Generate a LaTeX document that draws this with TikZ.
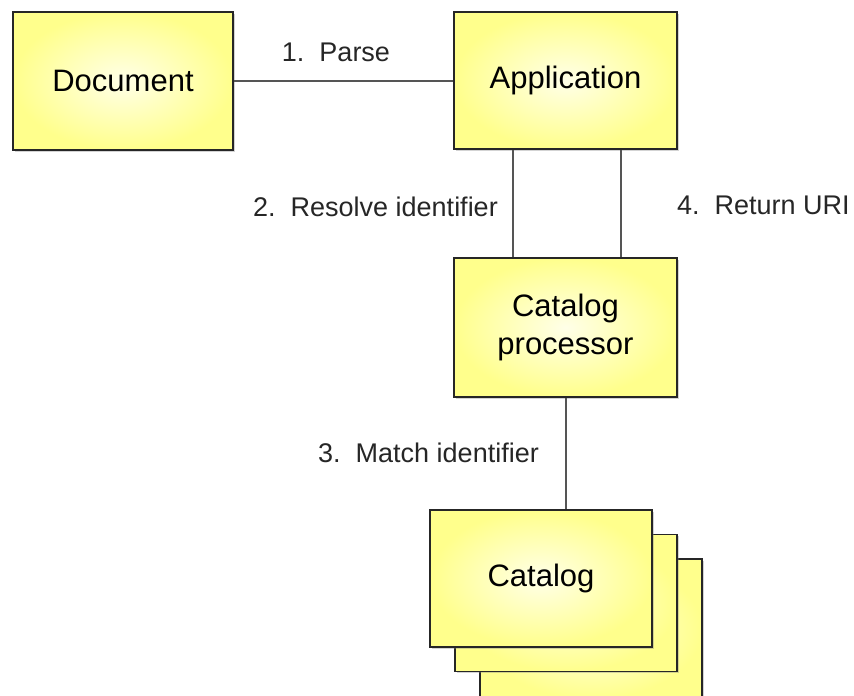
\documentclass[tikz,border=0pt]{standalone}
\usepackage{fontspec}
\setmainfont{Liberation Sans}
\usetikzlibrary{shadows,positioning,calc}

\definecolor{boxedge}{RGB}{255,255,140}
\definecolor{boxmid}{RGB}{255,255,232}
\definecolor{linkgray}{RGB}{85,85,85}

\tikzset{
  block/.style={
    rectangle, draw=black!85, line width=1.6pt, align=center,
    inner color=boxmid, outer color=boxedge,
    drop shadow={shadow xshift=1.5pt, shadow yshift=-1.5pt, opacity=.35},
    minimum width=222pt, minimum height=137pt, inner sep=0pt,
    font=\fontsize{31}{38}\selectfont
  },
  link/.style={draw=linkgray, line width=2pt},
  step label/.style={font=\fontsize{27}{32}\selectfont, text=black!85, inner sep=0pt}
}

\begin{document}
\begin{tikzpicture}[x=1pt, y=-1pt]

    \useasboundingbox (0,0) rectangle (854,696);

    % boxes
    \node [block, minimum width=220pt, minimum height=138pt] (doc) at (123,81) {Document};
    \node [block, minimum width=223pt] (app) at (565.5,80.5) {Application};
    \node [block, minimum width=223pt, minimum height=139pt] (proc) at (565.5,327.5)
      {Catalog\\processor};

    % stack of catalogs, back to front
    \node [block, minimum height=140pt] (cat3) at (591,629) {};
    \node [block] (cat2) at (566,603) {};
    \node [block] (cat1) at (541,578.5) {Catalog};

    % links
    \draw [link] (doc.east) -- (doc.east -| app.west);
    \draw [link] ([xshift=-52.5pt]app.south) -- ([xshift=-52.5pt]proc.north);
    \draw [link] ([xshift=55.5pt]app.south) -- ([xshift=55.5pt]proc.north);
    \draw [link] (proc.south) -- (proc.south |- cat1.north);

    % labels
    \node [step label] (parse) at (336,52) {1.\ \ Parse};
    \node [step label, anchor=east] (resolve) at (498,207) {2.\ \ Resolve identifier};
    \node [step label, anchor=west] (ret) at (677,205) {4.\ \ Return URI};
    \node [step label, anchor=east] (match) at (539,453) {3.\ \ Match identifier};

\end{tikzpicture}
\end{document}
